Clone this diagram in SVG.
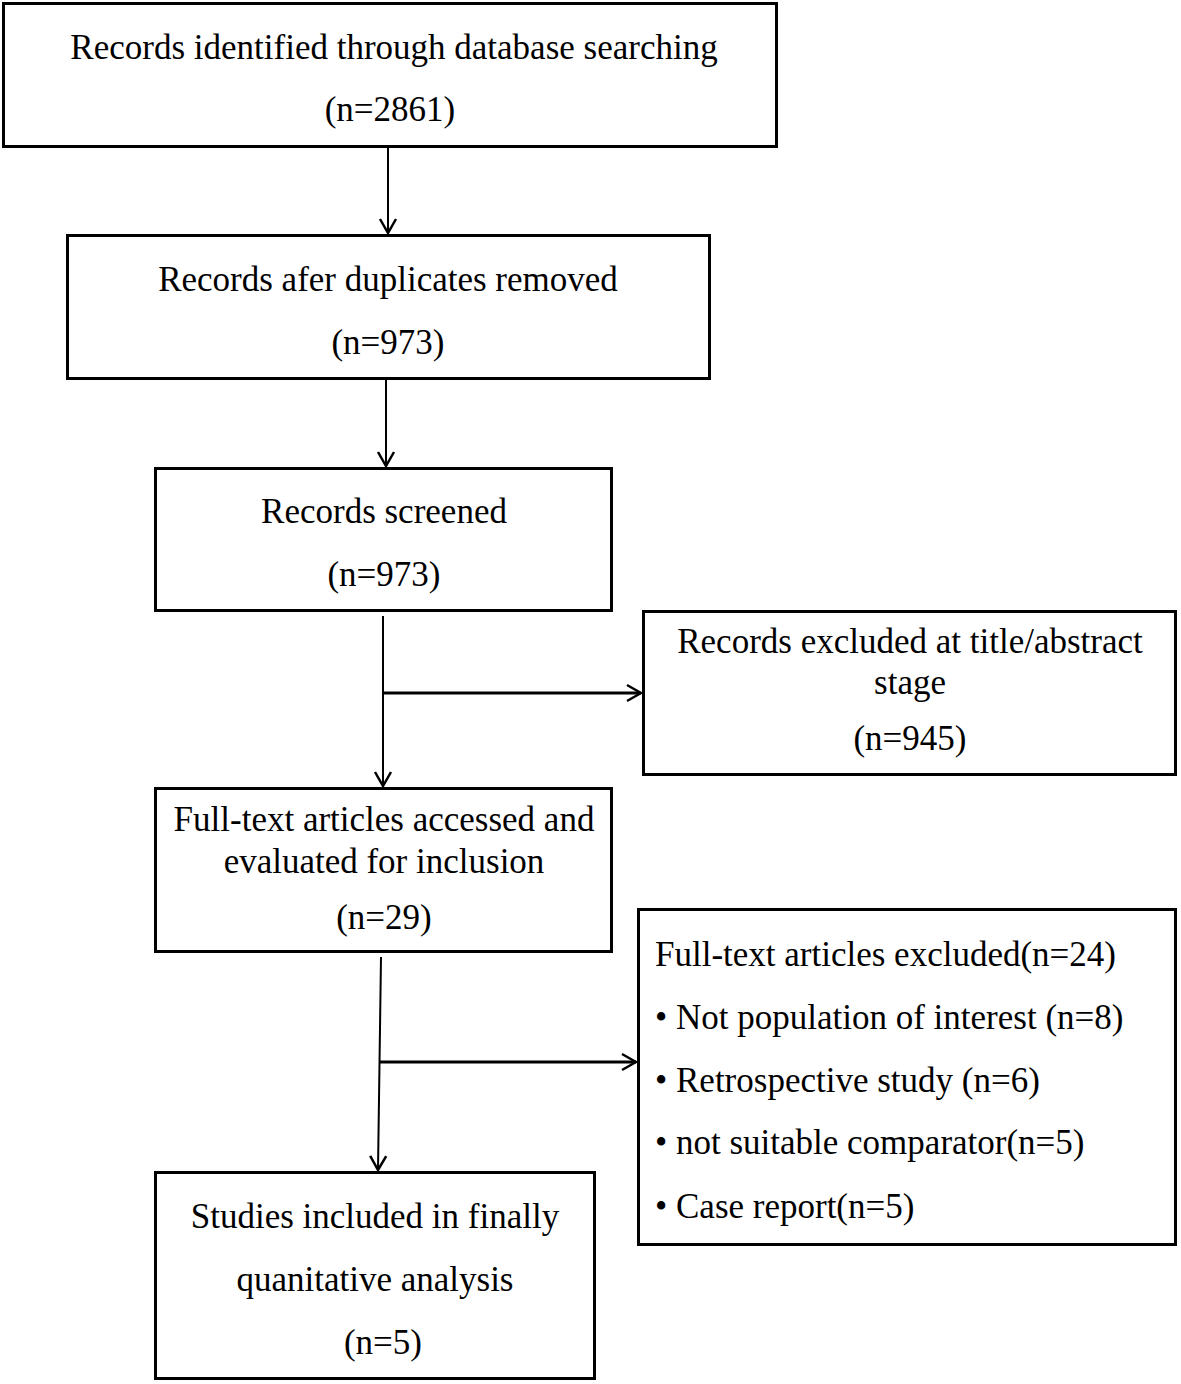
<svg xmlns="http://www.w3.org/2000/svg" width="1181" height="1384" viewBox="0 0 1181 1384">
<style>
.box{fill:#fff;stroke:#000;stroke-width:3}
.t{font-family:"Liberation Serif","Times New Roman",serif;font-size:35px;fill:#000;text-anchor:middle}
.l{text-anchor:start}
.c{fill:none;stroke:#000;stroke-width:2}
.h{stroke-width:3}
</style>
<defs>
<marker id="arr" viewBox="0 0 20 20" refX="18" refY="10" markerWidth="20" markerHeight="20" markerUnits="userSpaceOnUse" orient="auto">
<path d="M4,2 L18,10 L4,18" fill="none" stroke="#000" stroke-width="2.5"/>
</marker>
</defs>
<rect width="1181" height="1384" fill="#fff"/>
<g id="n1"><rect class="box" x="3.5" y="3.5" width="773" height="143"/>
<text class="t" x="394" y="59">Records identified through database searching</text>
<text class="t" x="390" y="121">(n=2861)</text></g>
<g id="n2"><rect class="box" x="67.5" y="235.5" width="642" height="143"/>
<text class="t" x="388" y="291">Records afer duplicates removed</text>
<text class="t" x="388" y="354">(n=973)</text></g>
<g id="n3"><rect class="box" x="155.5" y="468.5" width="456" height="142"/>
<text class="t" x="384" y="523">Records screened</text>
<text class="t" x="384" y="586">(n=973)</text></g>
<g id="n4"><rect class="box" x="643.5" y="611.5" width="532" height="163"/>
<text class="t" x="910" y="653">Records excluded at title/abstract</text>
<text class="t" x="910" y="694">stage</text>
<text class="t" x="910" y="750">(n=945)</text></g>
<g id="n5"><rect class="box" x="155.5" y="788.5" width="456" height="163"/>
<text class="t" x="384" y="831">Full-text articles accessed and</text>
<text class="t" x="384" y="873">evaluated for inclusion</text>
<text class="t" x="384" y="929">(n=29)</text></g>
<g id="n6"><rect class="box" x="638.5" y="909.5" width="537" height="335"/>
<text class="t l" x="655" y="966">Full-text articles excluded(n=24)</text>
<text class="t l" x="655" y="1029">• Not population of interest (n=8)</text>
<text class="t l" x="655" y="1092">• Retrospective study (n=6)</text>
<text class="t l" x="655" y="1154">• not suitable comparator(n=5)</text>
<text class="t l" x="655" y="1218">• Case report(n=5)</text></g>
<g id="n7"><rect class="box" x="155.5" y="1172.5" width="439" height="206"/>
<text class="t" x="375" y="1228">Studies included in finally</text>
<text class="t" x="375" y="1291">quanitative analysis</text>
<text class="t" x="383" y="1354">(n=5)</text></g>
<g id="connectors">
<line class="c" x1="388" y1="148" x2="388" y2="233" marker-end="url(#arr)"/>
<line class="c" x1="386" y1="380" x2="386" y2="466" marker-end="url(#arr)"/>
<line class="c" x1="383" y1="616" x2="383" y2="786" marker-end="url(#arr)"/>
<line class="c h" x1="382" y1="693" x2="641" y2="693" marker-end="url(#arr)"/>
<line class="c" x1="381" y1="957" x2="378" y2="1170" marker-end="url(#arr)"/>
<line class="c h" x1="380" y1="1062" x2="636" y2="1062" marker-end="url(#arr)"/>
</g>
</svg>
